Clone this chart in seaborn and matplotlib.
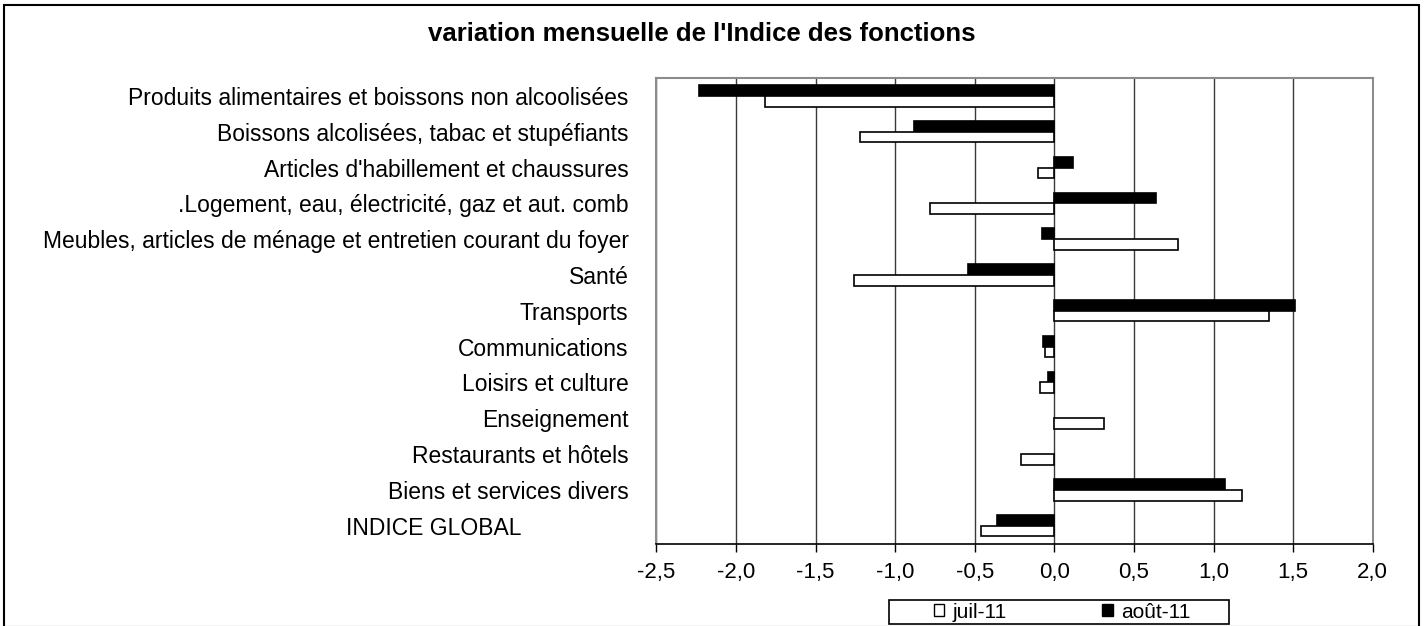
import matplotlib
matplotlib.use("Agg")
import matplotlib.pyplot as plt
import matplotlib.patches as mpatches
import seaborn as sns
import pandas as pd

categories = [
    "Produits alimentaires et boissons non alcoolisées",
    "Boissons alcolisées, tabac et stupéfiants",
    "Articles d'habillement et chaussures",
    ".Logement, eau, électricité, gaz et aut. comb",
    "Meubles, articles de ménage et entretien courant du foyer",
    "Santé",
    "Transports",
    "Communications",
    "Loisirs et culture",
    "Enseignement",
    "Restaurants et hôtels",
    "Biens et services divers",
    "INDICE GLOBAL",
]
juil_11 = [-1.82, -1.22, -0.10, -0.78, 0.78, -1.26, 1.35, -0.06, -0.09, 0.31, -0.21, 1.18, -0.46]
aout_11 = [-2.23, -0.88, 0.12, 0.64, -0.08, -0.54, 1.51, -0.07, -0.04, 0.0, 0.0, 1.07, -0.36]
series_names = ["juil-11", "août-11"]
x_ticks = [-2.5, -2.0, -1.5, -1.0, -0.5, 0.0, 0.5, 1.0, 1.5, 2.0]
title = "variation mensuelle de l'Indice des fonctions"

df = pd.DataFrame({
    "categorie": categories * 2,
    "valeur": juil_11 + aout_11,
    "periode": [series_names[0]] * len(categories) + [series_names[1]] * len(categories),
})

sns.set_theme(style="white")
plt.rcParams["font.family"] = ["Liberation Sans", "DejaVu Sans"]
plt.rcParams["text.color"] = "black"
plt.rcParams["xtick.color"] = "black"
plt.rcParams["ytick.color"] = "black"

W, H = 1427, 626
fig = plt.figure(figsize=(W / 100, H / 100), dpi=100)
ax = fig.add_axes([656.3 / W, 1 - 543.5 / H, (1372.7 - 656.3) / W, (543.5 - 78) / H])

sns.barplot(
    data=df, x="valeur", y="categorie", hue="periode",
    hue_order=[series_names[1], series_names[0]],
    palette={series_names[0]: "white", series_names[1]: "black"},
    order=categories, orient="h", width=0.6, errorbar=None,
    edgecolor="black", linewidth=1.2, legend=False, ax=ax, zorder=3,
)
for p in ax.patches:
    if abs(p.get_width()) < 1e-9:
        p.set_visible(False)

ax.set_xlim(-2.5, 2.0)
ax.set_ylim(len(categories) - 0.5, -0.5)
ax.set_xticks(x_ticks)
ax.set_xticklabels([f"{t:.1f}".replace(".", ",") for t in x_ticks], fontsize=16)
ax.xaxis.grid(True, color="#3a3a3a", linewidth=1.0, zorder=0)
ax.yaxis.grid(False)
ax.set_axisbelow(True)
ax.set_xlabel("")
ax.set_ylabel("")

labels = list(categories)
labels[-1] = labels[-1] + " " * 17
ax.set_yticks(range(len(categories)))
ax.set_yticklabels(labels, fontsize=16.5, color="black")
ax.tick_params(axis="y", length=0, pad=20)
ax.tick_params(axis="x", length=6, width=1, color="black", direction="out", pad=7,
               bottom=True, labelcolor="black")

for side in ["top", "right", "left"]:
    ax.spines[side].set_color("#8c8c8c")
    ax.spines[side].set_linewidth(1.5)
ax.spines["bottom"].set_color("black")
ax.spines["bottom"].set_linewidth(1.2)

fig.text(702 / W, 1 - 34 / H, title, ha="center", va="center", fontsize=18.5,
         fontweight="bold", color="black")

# legend
fig.patches.append(mpatches.Rectangle((889 / W, 1 - 624 / H), 340 / W, 24 / H,
                                      transform=fig.transFigure, fill=False,
                                      edgecolor="black", linewidth=1.2))
handles = [mpatches.Patch(facecolor="white", edgecolor="black", linewidth=1),
           mpatches.Patch(facecolor="black", edgecolor="black", linewidth=1)]
fig.legend(handles, series_names, loc="center", bbox_to_anchor=(1062 / W, 1 - 612 / H),
           ncol=2, frameon=False, fontsize=15, handlelength=0.5, handleheight=0.5,
           handletextpad=0.4, columnspacing=4.6, borderpad=0.1, labelcolor="black")

# outer border
fig.patches.append(mpatches.Rectangle((4 / W, 1 - 627 / H), 1415 / W, 622 / H,
                                      transform=fig.transFigure, fill=False,
                                      edgecolor="black", linewidth=1.5))

fig.savefig("out.png", dpi=100)
